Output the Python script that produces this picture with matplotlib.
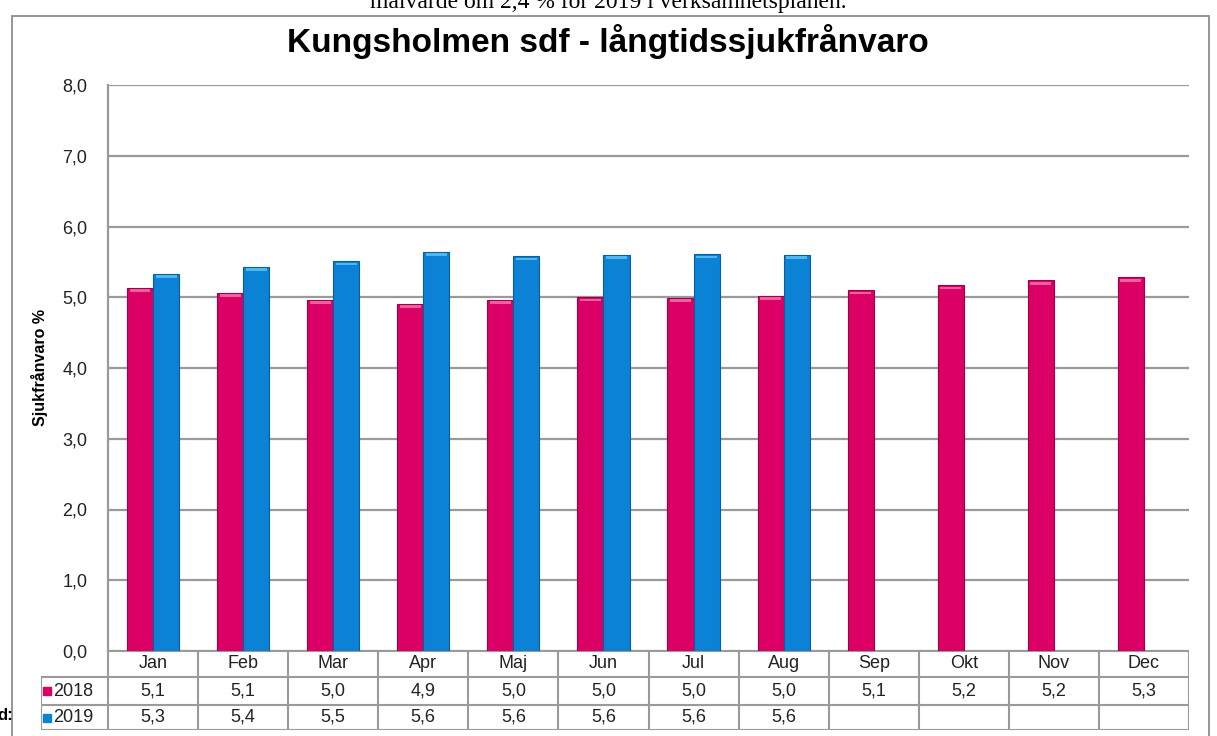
import matplotlib.pyplot as plt
import numpy as np
from matplotlib.patches import Rectangle

months = ['Jan', 'Feb', 'Mar', 'Apr', 'Maj', 'Jun', 'Jul', 'Aug', 'Sep', 'Okt', 'Nov', 'Dec']
series_names = ['2018', '2019']
values_2018 = [5.13, 5.06, 4.96, 4.91, 4.96, 5.0, 4.99, 5.02, 5.1, 5.17, 5.24, 5.28]
values_2019 = [5.33, 5.43, 5.51, 5.64, 5.58, 5.6, 5.61, 5.6]
yticks = [0, 1, 2, 3, 4, 5, 6, 7, 8]

pink = '#DC0066'
blue = '#0C82D6'
grid_col = '#9A9A9A'

W, H = 1217, 736
plt.rcParams['font.family'] = ['Liberation Sans', 'DejaVu Sans']
fig = plt.figure(figsize=(W / 100, H / 100), dpi=100)


def fx(px):
    return px / W


def fy(py):
    return 1 - py / H


# outer chart frame
fig.patches.append(Rectangle((fx(12), fy(745)), fx(1209) - fx(12), fy(16) - fy(745),
                             transform=fig.transFigure, fill=False,
                             edgecolor='#8C8C8C', lw=1.3))

# cut off text from surrounding document
fig.text(0.5, fy(8), 'målvärde om 2,4 % för 2019 i verksamhetsplanen.',
         family='Liberation Serif', fontsize=17, ha='center', va='baseline')
fig.text(fx(-3), fy(716), 'd:', fontsize=12, fontweight='bold', ha='left', va='center')

# main plot
left, right, top, bottom = 108, 1189, 85, 651
ax = fig.add_axes([fx(left), fy(bottom), fx(right) - fx(left), fy(top) - fy(bottom)])
x = np.arange(len(months))
bw = 0.29
x19 = np.arange(len(values_2019))
ax.bar(x - bw / 2, values_2018, width=bw, color=pink, edgecolor='#9E0048', lw=0.8, zorder=3)
ax.bar(x19 + bw / 2, values_2019, width=bw, color=blue, edgecolor='#075E9E', lw=0.8, zorder=3)
# light caps for the 3D look
ax.bar(x - bw / 2, [0.04] * len(x), bottom=np.array(values_2018) - 0.06, width=bw * 0.8,
       color='#F060A0', lw=0, zorder=4)
ax.bar(x19 + bw / 2, [0.04] * len(x19), bottom=np.array(values_2019) - 0.06, width=bw * 0.8,
       color='#50B8F0', lw=0, zorder=4)

ax.set_xlim(-0.5, len(months) - 0.5)
ax.set_ylim(0, 8)
ax.set_yticks(yticks)
ax.set_yticklabels([f'{t:.1f}'.replace('.', ',') for t in yticks], fontsize=13)
ax.set_xticks([])
ax.yaxis.grid(True, color=grid_col, lw=1.6, zorder=0)
for s in ['top', 'right', 'bottom']:
    ax.spines[s].set_visible(False)
ax.spines['left'].set_color(grid_col)
ax.spines['left'].set_linewidth(1.6)
ax.tick_params(axis='y', length=0, labelcolor='#222222', pad=15)
ax.set_ylabel('Sjukfrånvaro %', fontsize=11.5, fontweight='bold', labelpad=10)

fig.text(fx(608), fy(52), 'Kungsholmen sdf - långtidssjukfrånvaro', fontsize=24,
         fontweight='bold', ha='center', va='baseline')

# data table
tleft, tbottom = 41, 730
unit = (right - left) / len(months)
xmin = -0.5 - (left - tleft) / unit
tax = fig.add_axes([fx(tleft), fy(tbottom), fx(right) - fx(tleft), fy(bottom) - fy(tbottom)])
tax.set_xlim(xmin, len(months) - 0.5)
row_edges = [0, 26, 54, 79]
tax.set_ylim(row_edges[-1], 0)
tax.axis('off')
lc = dict(color=grid_col, lw=1.5, solid_capstyle='butt')
tax.plot([-0.5, len(months) - 0.5], [row_edges[0]] * 2, **lc)
for r in row_edges[1:]:
    tax.plot([xmin, len(months) - 0.5], [r, r], **lc)
for b in np.arange(len(months) + 1) - 0.5:
    tax.plot([b, b], [row_edges[0], row_edges[-1]], **lc)
tax.plot([xmin, xmin], [row_edges[1], row_edges[-1]], **lc)


def mid(i):
    return (row_edges[i] + row_edges[i + 1]) / 2


for i, m in enumerate(months):
    tax.text(i, mid(0), m, ha='center', va='center', fontsize=13, color='#222222')
for r, (name, vals, col) in enumerate(zip(series_names, [values_2018, values_2019], [pink, blue]), start=1):
    tax.plot(xmin + 0.07, mid(r), marker='s', ms=6, color=col, mec=col)
    tax.text(xmin + 0.13, mid(r), name, ha='left', va='center', fontsize=13, color='#222222')
    for i, v in enumerate(vals):
        tax.text(i, mid(r), f'{v:.1f}'.replace('.', ','), ha='center', va='center',
                 fontsize=13, color='#222222')

fig.savefig('out.png', dpi=100)
